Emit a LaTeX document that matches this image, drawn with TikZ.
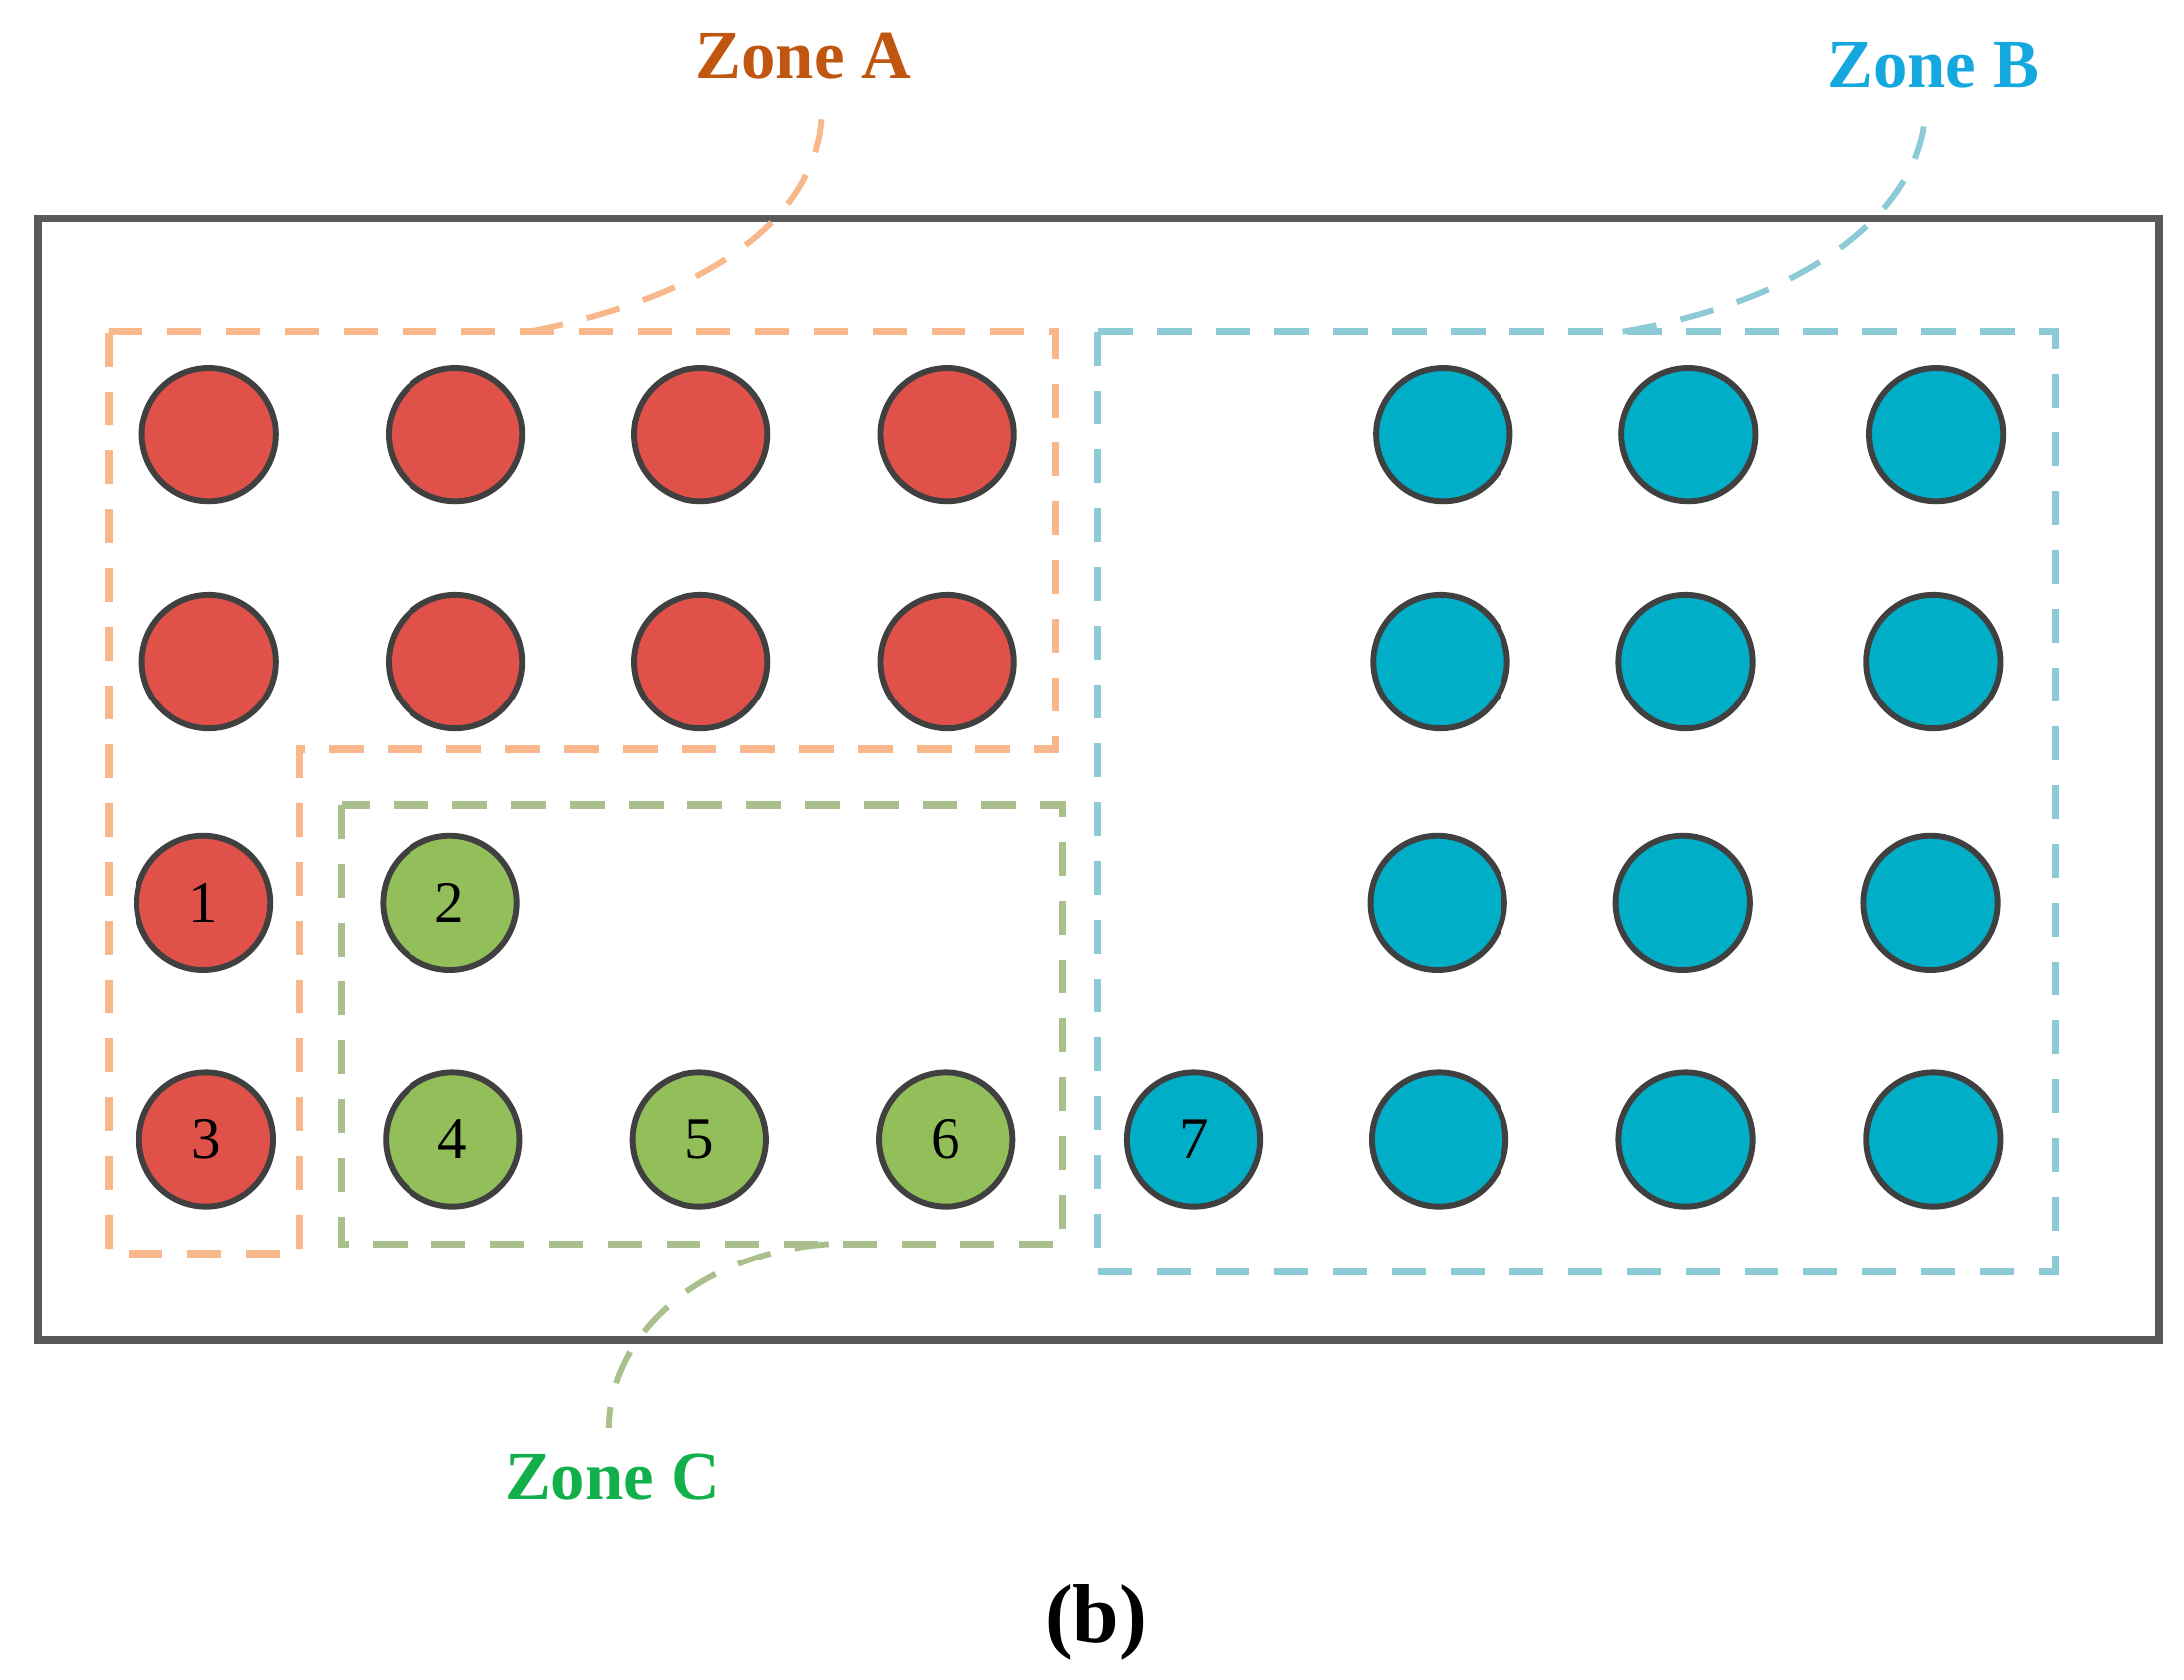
\documentclass[tikz,border=0pt]{standalone}
\usepackage{fontspec}
\setmainfont{Liberation Serif}
\definecolor{cred}{HTML}{E05249}
\definecolor{cblue}{HTML}{00AEC7}
\definecolor{cgreen}{HTML}{92BF5A}
\definecolor{za}{HTML}{F8B88B}
\definecolor{zb}{HTML}{8CCAD6}
\definecolor{zc}{HTML}{A9C08C}
\definecolor{ta}{HTML}{C0560F}
\definecolor{tb}{HTML}{14A8DE}
\definecolor{tc}{HTML}{12B04A}
\begin{document}
\begin{tikzpicture}[x=0.01cm,y=-0.01cm,
  dot/.style={circle,draw=black!75,line width=1.2pt,minimum size=0.96cm,inner sep=0pt,font=\fontsize{12}{12}\selectfont},
  R/.style={dot,fill=cred},B/.style={dot,fill=cblue},G/.style={dot,fill=cgreen},
  zone/.style={dashed,line width=1.5pt,dash pattern=on 7pt off 5pt},
  lab/.style={font=\fontsize{14}{14}\selectfont\bfseries}]
\useasboundingbox (0,0) rectangle (1568,1206);
\draw[black!65,line width=1.6pt] (27,157) rectangle (1550,962);
\draw[zone,za] (78,238) -- (758,238) -- (758,538) -- (215,538) -- (215,900) -- (78,900) -- cycle;
\draw[zone,zc] (245,578) rectangle (763,893);
\draw[zone,zb] (788,238) rectangle (1476,913);
\foreach \x [count=\i] in {150,327,503,680}{\node[R] (ra\i) at (\x,312) {}; \node[R] (rb\i) at (\x,475) {};}
\node[R] (n1) at (146,648) {1};
\node[R] (n3) at (148,818) {3};
\node[G] (n2) at (323,648) {2};
\node[G] (n4) at (325,818) {4};
\node[G] (n5) at (502,818) {5};
\node[G] (n6) at (679,818) {6};
\node[B] (n7) at (857,818) {7};
\foreach \x [count=\i] in {1036,1212,1390}{\node[B] (ba\i) at (\x,312) {};}
\foreach \x [count=\i] in {1034,1210,1388}{\node[B] (bb\i) at (\x,475) {};}
\foreach \x [count=\i] in {1032,1208,1386}{\node[B] (bc\i) at (\x,648) {};}
\foreach \x [count=\i] in {1033,1210,1388}{\node[B] (bd\i) at (\x,818) {};}
\node[lab,text=ta] (la) at (577,40) {Zone A};
\node[lab,text=tb] (lb) at (1388,47) {Zone B};
\node[lab,text=tc] (lc) at (440,1060) {Zone C};
\node[lab,font=\fontsize{17}{17}\selectfont\bfseries] (cap) at (787,1165) {(b)};
\coordinate (pa) at (380,238);
\coordinate (pb) at (1165,238);
\coordinate (pc) at (595,893);
\draw[zone,za,line width=1.2pt] (pa) .. controls (520,210) and (590,150) .. (590,78);
\draw[zone,zb,line width=1.2pt] (pb) .. controls (1300,215) and (1380,150) .. (1382,80);
\draw[zone,zc,line width=1.2pt] (pc) .. controls (500,900) and (437,960) .. (437,1025);
\end{tikzpicture}
\end{document}
